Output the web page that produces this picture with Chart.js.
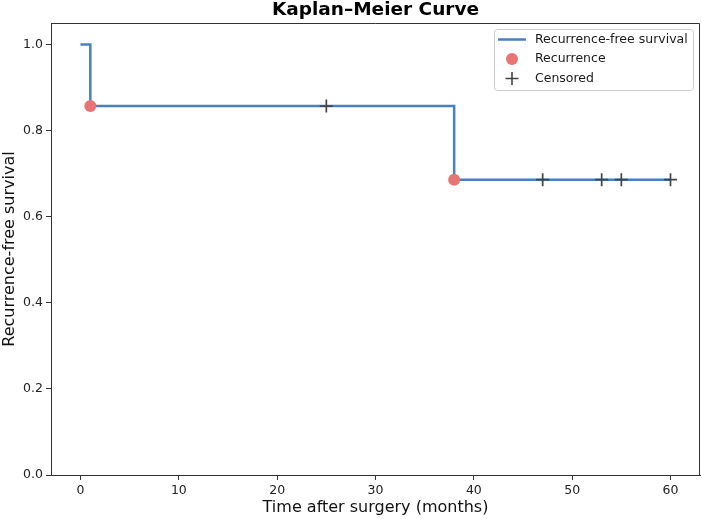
<!DOCTYPE html>
<html><head><meta charset="utf-8">
<script src="https://cdn.jsdelivr.net/npm/chart.js@4/dist/chart.umd.min.js"></script>
<style>html,body{margin:0;padding:0;background:#fff}#wrap{width:702px;height:519px}</style>
</head><body><div id="wrap"><canvas id="c" width="702" height="519"></canvas></div>
<script>
const stepTimes = [0, 1, 38, 60];
const stepSurvival = [1.0, 0.857, 0.686, 0.686];
const recurrenceTimes = [1, 38];
const recurrenceSurvival = [0.857, 0.686];
const censoredTimes = [25, 47, 53, 55, 60];
const censoredSurvival = [0.857, 0.686, 0.686, 0.686, 0.686];
const xTicks = [0, 10, 20, 30, 40, 50, 60];
const yTicks = [0.0, 0.2, 0.4, 0.6, 0.8, 1.0];
const titleText = 'Kaplan\u2013Meier Curve';
const legendLabels = ['Recurrence-free survival', 'Recurrence', 'Censored'];

const FONT = "'DejaVu Sans', sans-serif";
const LINE_COLOR = '#4a7fc0';
const REC_COLOR = '#e87474';
const CEN_COLOR = '#444444';
const AXIS_COLOR = '#333333';

const zip = (xs, ys) => xs.map((x, i) => ({x: x, y: ys[i]}));

function noPad(s) {
  s.paddingLeft = 0; s.paddingRight = 0; s.paddingTop = 0; s.paddingBottom = 0;
  if (s._margins) { s._margins.left = 0; s._margins.right = 0; s._margins.top = 0; s._margins.bottom = 0; }
}

const framePlugin = {
  id: 'frame',
  afterDraw(chart) {
    const {ctx, chartArea: a} = chart;
    ctx.save();
    ctx.strokeStyle = AXIS_COLOR;
    ctx.lineWidth = 1;
    ctx.beginPath();
    ctx.moveTo(a.left, a.top + 0.5);
    ctx.lineTo(a.right - 0.5, a.top + 0.5);
    ctx.lineTo(a.right - 0.5, a.bottom);
    ctx.stroke();
    ctx.fillStyle = '#000';
    ctx.font = "bold 18.5px " + FONT;
    ctx.textAlign = 'center';
    ctx.textBaseline = 'middle';
    ctx.fillText(titleText, (a.left + a.right) / 2, 10);
    const bx = 494, by = 29, bw = 199, bh = 61;
    ctx.fillStyle = 'rgba(255,255,255,0.85)';
    ctx.strokeStyle = '#cccccc';
    ctx.lineWidth = 1;
    ctx.beginPath();
    ctx.roundRect(bx + 0.5, by + 0.5, bw, bh, 3);
    ctx.fill();
    ctx.stroke();
    const rows = [39.5, 59, 78.5];
    const hx0 = 498, hx1 = 526, tx = 535;
    ctx.strokeStyle = LINE_COLOR;
    ctx.lineWidth = 2.5;
    ctx.beginPath();
    ctx.moveTo(hx0, rows[0]);
    ctx.lineTo(hx1, rows[0]);
    ctx.stroke();
    ctx.fillStyle = REC_COLOR;
    ctx.beginPath();
    ctx.arc((hx0 + hx1) / 2, rows[1], 6, 0, Math.PI * 2);
    ctx.fill();
    ctx.strokeStyle = CEN_COLOR;
    ctx.lineWidth = 1.6;
    const cx = (hx0 + hx1) / 2, r = 6.5;
    ctx.beginPath();
    ctx.moveTo(cx - r, rows[2]); ctx.lineTo(cx + r, rows[2]);
    ctx.moveTo(cx, rows[2] - r); ctx.lineTo(cx, rows[2] + r);
    ctx.stroke();
    ctx.fillStyle = '#1a1a1a';
    ctx.font = "12.5px " + FONT;
    ctx.textAlign = 'left';
    legendLabels.forEach((t, i) => ctx.fillText(t, tx, rows[i]));
    ctx.restore();
  }
};

new Chart(document.getElementById('c'), {
  type: 'scatter',
  data: {
    datasets: [
      {
        type: 'line',
        label: legendLabels[0],
        data: zip(stepTimes, stepSurvival),
        stepped: 'before',
        borderColor: LINE_COLOR,
        borderWidth: 2.5,
        pointRadius: 0,
        fill: false,
        order: 3
      },
      {
        label: legendLabels[1],
        data: zip(recurrenceTimes, recurrenceSurvival),
        backgroundColor: REC_COLOR,
        borderWidth: 0,
        pointRadius: 6,
        order: 2
      },
      {
        label: legendLabels[2],
        data: zip(censoredTimes, censoredSurvival),
        pointStyle: 'cross',
        borderColor: CEN_COLOR,
        borderWidth: 1.7,
        pointRadius: 6.5,
        order: 1
      }
    ]
  },
  options: {
    responsive: false,
    animation: false,
    devicePixelRatio: 1,
    layout: {autoPadding: false, padding: {left: 0, top: 23, right: 2, bottom: 0}},
    plugins: {legend: {display: false}, tooltip: {enabled: false}, title: {display: false}},
    scales: {
      x: {
        type: 'linear', min: -3, max: 63,
        afterBuildTicks: s => { s.ticks = xTicks.map(v => ({value: v})); },
        afterFit: s => { s.height = 44; noPad(s); },
        grid: {display: true, drawOnChartArea: false, drawTicks: true, tickLength: 5, tickColor: AXIS_COLOR},
        border: {color: AXIS_COLOR, width: 1},
        ticks: {color: '#222', font: {family: FONT, size: 12.5}, padding: 3, maxRotation: 0, callback: v => String(v)},
        title: {display: true, text: 'Time after surgery (months)', color: '#111', font: {family: FONT, size: 16}, padding: {top: 0, bottom: 2}}
      },
      y: {
        type: 'linear', min: 0, max: 1.05,
        afterBuildTicks: s => { s.ticks = yTicks.map(v => ({value: v})); },
        afterFit: s => { s.width = 51; noPad(s); },
        grid: {display: true, drawOnChartArea: false, drawTicks: true, tickLength: 5, tickColor: AXIS_COLOR},
        border: {color: AXIS_COLOR, width: 1},
        ticks: {color: '#222', font: {family: FONT, size: 12.5}, padding: 3, callback: v => v.toFixed(1)},
        title: {display: true, text: 'Recurrence-free survival', color: '#111', font: {family: FONT, size: 16}, padding: {top: 0, bottom: 2}}
      }
    }
  },
  plugins: [framePlugin]
});
</script></body></html>
